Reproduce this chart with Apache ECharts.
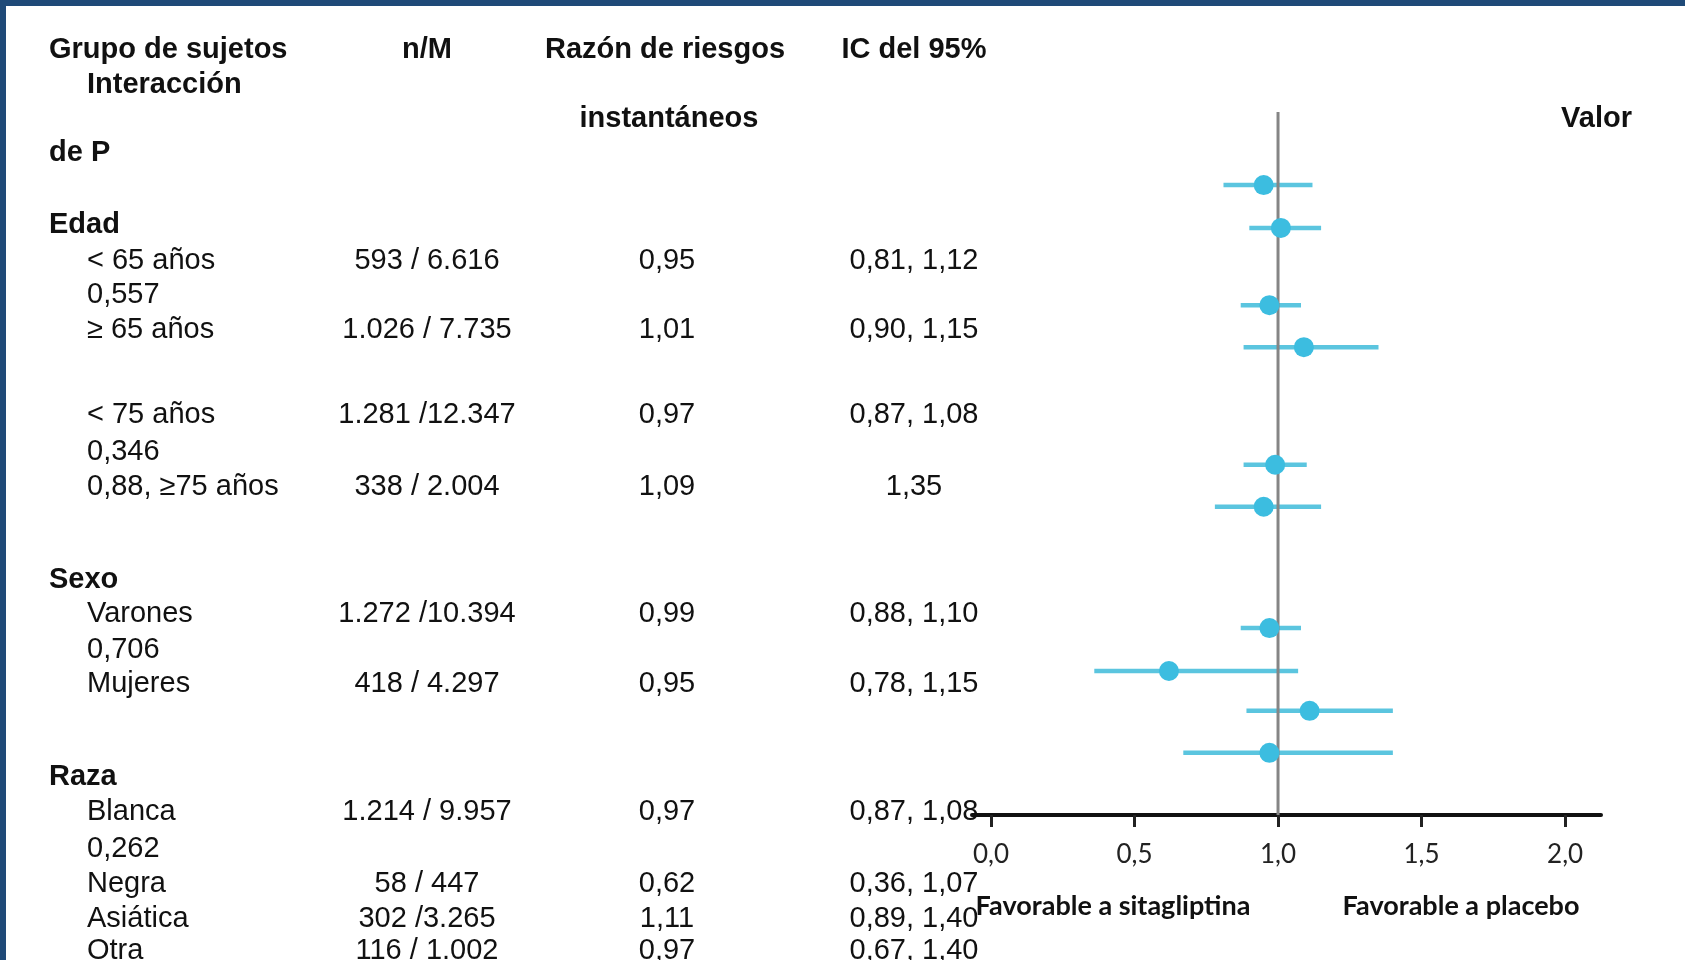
<!DOCTYPE html>
<html>
<head>
<meta charset="utf-8">
<script src="https://cdn.jsdelivr.net/npm/echarts@6/dist/echarts.min.js"></script>
<style>
html,body{margin:0;padding:0;background:#fff;}
#chart{width:1685px;height:960px;}
</style>
</head>
<body>
<div id="chart"></div>
<script>
// ---------- DATA ----------
const headerLine1 = ['Grupo de sujetos', 'n/M', 'Razón de riesgos', 'IC del 95%'];
const headerLine2 = 'Interacción';
const headerLine3 = ['instantáneos', 'Valor'];
const headerLine4 = 'de P';
const groupNames = ['Edad', 'Sexo', 'Raza'];
const subgroupLabels = ['< 65 años', '≥ 65 años', '< 75 años', '0,88, ≥75 años', 'Varones', 'Mujeres', 'Blanca', 'Negra', 'Asiática', 'Otra'];
const nM = ['593 / 6.616', '1.026 / 7.735', '1.281 /12.347', '338 / 2.004', '1.272 /10.394', '418 / 4.297', '1.214 / 9.957', '58 / 447', '302 /3.265', '116 / 1.002'];
const hrText = ['0,95', '1,01', '0,97', '1,09', '0,99', '0,95', '0,97', '0,62', '1,11', '0,97'];
const ciText = ['0,81, 1,12', '0,90, 1,15', '0,87, 1,08', '1,35', '0,88, 1,10', '0,78, 1,15', '0,87, 1,08', '0,36, 1,07', '0,89, 1,40', '0,67, 1,40'];
const pValues = ['0,557', '0,346', '0,706', '0,262'];
const hr = [0.95, 1.01, 0.97, 1.09, 0.99, 0.95, 0.97, 0.62, 1.11, 0.97];
const ciLow = [0.81, 0.90, 0.87, 0.88, 0.88, 0.78, 0.87, 0.36, 0.89, 0.67];
const ciHigh = [1.12, 1.15, 1.08, 1.35, 1.10, 1.15, 1.08, 1.07, 1.40, 1.40];
const plotRow = [1.74, 2.76, 4.6, 5.6, 8.4, 9.4, 12.29, 13.31, 14.26, 15.26];
const tickValues = [0, 0.5, 1, 1.5, 2];
const tickLabels = ['0,0', '0,5', '1,0', '1,5', '2,0'];
const favourLabels = ['Favorable a sitagliptina', 'Favorable a placebo'];

// ---------- LAYOUT (positions/styles only) ----------
const FONT = 'Liberation Sans, Arial, sans-serif';
const FS = 29;
const colX = {label: 49, indent: 87, nM: 427, hr: 667, ci: 914};
const dy = 3;
const groupY = [222, 577, 774];
const rowY = [258, 327, 412, 484, 611, 681, 809, 881, 916, 948];
const pY = [292, 449, 647, 846];
const yMax = 16.74;

const graphics = [];
function txt(text, x, y, align, bold) {
  graphics.push({
    type: 'text', x: x, y: y + dy, silent: true, z: 10,
    style: {text: text, fontFamily: FONT, fontSize: FS, fontWeight: bold ? 'bold' : 'normal', fill: '#111',
      align: align, verticalAlign: 'middle'}
  });
}
// frame
graphics.push({type: 'rect', shape: {x: 0, y: 0, width: 1685, height: 6}, style: {fill: '#1F4A78'}, silent: true});
graphics.push({type: 'rect', shape: {x: 0, y: 0, width: 6, height: 960}, style: {fill: '#1F4A78'}, silent: true});
// headers
txt(headerLine1[0], colX.label, 47, 'left', true);
txt(headerLine1[1], colX.nM, 47, 'center', true);
txt(headerLine1[2], 665, 47, 'center', true);
txt(headerLine1[3], colX.ci, 47, 'center', true);
txt(headerLine2, colX.indent, 82, 'left', true);
txt(headerLine3[0], 669, 116, 'center', true);
txt(headerLine3[1], 1632, 116, 'right', true);
txt(headerLine4, colX.label, 150, 'left', true);
// groups
groupNames.forEach((g, i) => txt(g, colX.label, groupY[i], 'left', true));
// rows
subgroupLabels.forEach((s, i) => {
  txt(s, colX.indent, rowY[i], 'left', false);
  txt(nM[i], colX.nM, rowY[i], 'center', false);
  txt(hrText[i], colX.hr, rowY[i], 'center', false);
  txt(ciText[i], colX.ci, rowY[i], 'center', false);
});
pValues.forEach((p, i) => txt(p, colX.indent, pY[i], 'left', false));
// favour labels
[[favourLabels[0], 1113], [favourLabels[1], 1461]].forEach(([t, x]) => {
  graphics.push({type: 'text', x: x, y: 906, silent: true, z: 10,
    style: {text: t, fontFamily: 'Lato', fontSize: 27, fontWeight: 'bold', fill: '#111', align: 'center', verticalAlign: 'middle'}});
});

const barData = hr.map((v, i) => [ciLow[i], ciHigh[i], plotRow[i]]);
const dotData = hr.map((v, i) => [v, plotRow[i]]);

const chart = echarts.init(document.getElementById('chart'), null, {renderer: 'canvas'});
chart.setOption({
  animation: false,
  backgroundColor: '#fff',
  grid: {left: 972, right: 84, top: 112, bottom: 145},
  xAxis: {
    type: 'value', min: -0.066, max: 2.125, position: 'bottom',
    splitLine: {show: false},
    axisLine: {show: true, onZero: false, lineStyle: {color: '#111', width: 4}},
    axisTick: {show: true, customValues: tickValues, length: 12, inside: false, lineStyle: {color: '#222', width: 3}},
    axisLabel: {show: true, customValues: tickValues, margin: 27, fontFamily: 'Lato', fontSize: 26, color: '#222',
      formatter: v => tickLabels[tickValues.indexOf(Math.round(v * 10) / 10)] ?? ''}
  },
  yAxis: {type: 'value', inverse: true, min: 0, max: yMax, show: false},
  series: [
    {
      type: 'custom', z: 1,
      renderItem: function (params, api) {
        const p1 = api.coord([api.value(0), api.value(2)]);
        const p2 = api.coord([api.value(1), api.value(2)]);
        return {type: 'line', shape: {x1: p1[0], y1: p1[1], x2: p2[0], y2: p2[1]},
          style: {stroke: '#5BC5DF', lineWidth: 4.5}};
      },
      encode: {x: [0, 1], y: 2},
      data: barData
    },
    {
      type: 'line', z: 2, symbol: 'none', silent: true,
      data: [[1, 0], [1, yMax]],
      lineStyle: {color: '#858585', width: 3}
    },
    {
      type: 'scatter', z: 3, symbol: 'circle', symbolSize: 20,
      itemStyle: {color: '#3CBDE0', opacity: 1},
      data: dotData
    }
  ],
  graphic: graphics
});
</script>
</body>
</html>
